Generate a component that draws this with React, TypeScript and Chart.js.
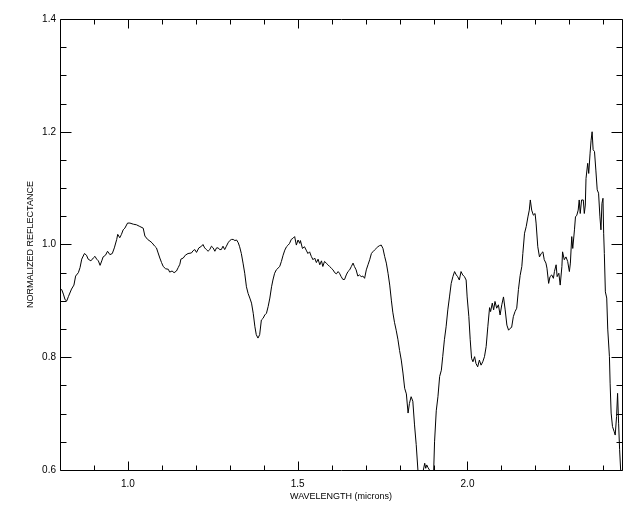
import { useEffect, useRef } from "react";
import { Chart, registerables } from "chart.js";

Chart.register(...registerables);

// Spectrum (wavelength in microns, normalized reflectance)
const wavelength = [
  0.800, 0.805, 0.810, 0.815, 0.820, 0.825, 0.834, 0.841, 0.846, 0.854, 0.859, 0.864, 0.872, 0.878, 0.883, 0.891,
  0.898, 0.903, 0.908, 0.913, 0.918, 0.923, 0.927, 0.934, 0.940, 0.947, 0.954, 0.960, 0.967, 0.970, 0.976, 0.981,
  0.986, 0.991, 0.999, 1.006, 1.016, 1.025, 1.035, 1.045, 1.050, 1.058, 1.065, 1.071, 1.079, 1.084, 1.089, 1.094,
  1.099, 1.104, 1.111, 1.119, 1.123, 1.130, 1.136, 1.143, 1.148, 1.153, 1.156, 1.163, 1.169, 1.177, 1.187, 1.192,
  1.197, 1.202, 1.209, 1.217, 1.221, 1.226, 1.231, 1.236, 1.241, 1.246, 1.251, 1.256, 1.261, 1.266, 1.270, 1.275,
  1.280, 1.285, 1.290, 1.295, 1.300, 1.305, 1.310, 1.315, 1.320, 1.325, 1.329, 1.334, 1.339, 1.344, 1.349, 1.354,
  1.359, 1.364, 1.369, 1.374, 1.378, 1.383, 1.388, 1.393, 1.398, 1.403, 1.408, 1.413, 1.418, 1.423, 1.427, 1.432,
  1.437, 1.447, 1.452, 1.457, 1.462, 1.467, 1.472, 1.476, 1.481, 1.486, 1.491, 1.496, 1.501, 1.506, 1.508, 1.514,
  1.520, 1.525, 1.530, 1.535, 1.540, 1.545, 1.550, 1.555, 1.560, 1.565, 1.570, 1.574, 1.579, 1.584, 1.589, 1.594,
  1.599, 1.604, 1.609, 1.614, 1.619, 1.623, 1.628, 1.633, 1.638, 1.643, 1.648, 1.653, 1.658, 1.663, 1.667, 1.672,
  1.677, 1.682, 1.687, 1.692, 1.697, 1.702, 1.707, 1.712, 1.717, 1.721, 1.726, 1.731, 1.736, 1.741, 1.746, 1.751,
  1.756, 1.761, 1.766, 1.771, 1.776, 1.780, 1.785, 1.790, 1.795, 1.800, 1.805, 1.810, 1.815, 1.820, 1.825, 1.829,
  1.834, 1.839, 1.844, 1.849, 1.854, 1.858, 1.866, 1.870, 1.874, 1.877, 1.880, 1.884, 1.888, 1.893, 1.900, 1.903,
  1.908, 1.913, 1.918, 1.923, 1.927, 1.932, 1.937, 1.942, 1.947, 1.952, 1.957, 1.962, 1.967, 1.971, 1.976, 1.981,
  1.986, 1.991, 1.996, 1.999, 2.004, 2.008, 2.012, 2.016, 2.021, 2.025, 2.030, 2.035, 2.040, 2.045, 2.050, 2.055,
  2.060, 2.065, 2.068, 2.073, 2.077, 2.081, 2.086, 2.091, 2.096, 2.101, 2.106, 2.111, 2.116, 2.121, 2.125, 2.130,
  2.135, 2.140, 2.145, 2.150, 2.155, 2.160, 2.163, 2.168, 2.173, 2.178, 2.182, 2.185, 2.189, 2.194, 2.199, 2.202,
  2.207, 2.212, 2.217, 2.222, 2.226, 2.231, 2.234, 2.239, 2.243, 2.248, 2.253, 2.256, 2.261, 2.264, 2.269, 2.273,
  2.278, 2.280, 2.285, 2.290, 2.295, 2.300, 2.303, 2.307, 2.310, 2.315, 2.318, 2.322, 2.326, 2.329, 2.332, 2.336,
  2.341, 2.344, 2.347, 2.349, 2.354, 2.357, 2.361, 2.364, 2.367, 2.370, 2.374, 2.378, 2.382, 2.386, 2.390, 2.393,
  2.396, 2.399, 2.401, 2.403, 2.406, 2.410, 2.413, 2.418, 2.420, 2.423, 2.427, 2.432, 2.435, 2.439, 2.442, 2.445,
  2.448, 2.451, 2.455,
];

const reflectance = [
  0.922, 0.920, 0.912, 0.902, 0.900, 0.908, 0.921, 0.928, 0.944, 0.950, 0.959, 0.974, 0.984, 0.981, 0.974, 0.971,
  0.976, 0.979, 0.974, 0.971, 0.963, 0.971, 0.978, 0.981, 0.988, 0.982, 0.984, 0.994, 1.009, 1.018, 1.012, 1.018,
  1.026, 1.029, 1.038, 1.038, 1.036, 1.035, 1.032, 1.029, 1.015, 1.009, 1.006, 1.003, 0.997, 0.994, 0.985, 0.976,
  0.968, 0.961, 0.957, 0.956, 0.951, 0.953, 0.950, 0.953, 0.959, 0.965, 0.974, 0.976, 0.981, 0.984, 0.985, 0.989,
  0.991, 0.986, 0.994, 0.997, 1.000, 0.994, 0.991, 0.988, 0.991, 0.997, 0.994, 0.988, 0.994, 0.994, 0.991, 0.991,
  0.997, 0.991, 0.997, 1.003, 1.007, 1.009, 1.009, 1.007, 1.008, 1.003, 0.996, 0.984, 0.967, 0.949, 0.925, 0.913,
  0.905, 0.896, 0.878, 0.854, 0.840, 0.834, 0.840, 0.866, 0.869, 0.875, 0.878, 0.890, 0.905, 0.925, 0.937, 0.949,
  0.955, 0.961, 0.970, 0.981, 0.990, 0.996, 0.999, 1.002, 1.009, 1.011, 1.014, 0.999, 1.008, 1.002, 1.007, 0.993,
  0.996, 0.990, 0.984, 0.987, 0.979, 0.973, 0.976, 0.968, 0.974, 0.964, 0.971, 0.961, 0.970, 0.967, 0.964, 0.961,
  0.958, 0.955, 0.950, 0.948, 0.952, 0.949, 0.943, 0.938, 0.938, 0.946, 0.952, 0.955, 0.961, 0.967, 0.961, 0.955,
  0.944, 0.946, 0.943, 0.944, 0.940, 0.955, 0.964, 0.973, 0.984, 0.987, 0.990, 0.993, 0.996, 0.998, 0.999, 0.993,
  0.979, 0.967, 0.949, 0.928, 0.900, 0.880, 0.862, 0.848, 0.832, 0.812, 0.795, 0.772, 0.745, 0.735, 0.701, 0.718,
  0.730, 0.722, 0.680, 0.645, 0.600, 0.585, 0.585, 0.600, 0.612, 0.603, 0.609, 0.604, 0.600, 0.590, 0.590, 0.650,
  0.705, 0.730, 0.766, 0.777, 0.801, 0.831, 0.854, 0.884, 0.907, 0.931, 0.943, 0.952, 0.946, 0.943, 0.937, 0.952,
  0.946, 0.943, 0.937, 0.907, 0.872, 0.831, 0.798, 0.792, 0.801, 0.789, 0.783, 0.795, 0.786, 0.792, 0.801, 0.819,
  0.855, 0.888, 0.881, 0.896, 0.884, 0.899, 0.887, 0.893, 0.875, 0.893, 0.907, 0.884, 0.857, 0.848, 0.851, 0.853,
  0.872, 0.881, 0.887, 0.920, 0.945, 0.961, 0.984, 1.020, 1.032, 1.049, 1.061, 1.079, 1.061, 1.052, 1.055, 1.038,
  0.996, 0.978, 0.984, 0.987, 0.973, 0.967, 0.958, 0.931, 0.943, 0.946, 0.940, 0.952, 0.964, 0.943, 0.949, 0.928,
  0.961, 0.987, 0.973, 0.978, 0.970, 0.952, 0.967, 1.014, 0.993, 1.026, 1.049, 1.052, 1.061, 1.079, 1.055, 1.079,
  1.079, 1.055, 1.070, 1.117, 1.144, 1.126, 1.162, 1.185, 1.200, 1.168, 1.165, 1.132, 1.097, 1.091, 1.049, 1.026,
  1.073, 1.082, 1.020, 0.984, 0.916, 0.905, 0.850, 0.801, 0.754, 0.701, 0.677, 0.668, 0.662, 0.695, 0.736, 0.683,
  0.636, 0.600, 0.585,
];

const xMin = 0.8;
const xMax = 2.455;
const yMin = 0.6;
const yMax = 1.4;
const xMajorTicks = [1.0, 1.5, 2.0];
const xMinorTicks = [0.9, 1.1, 1.2, 1.3, 1.4, 1.6, 1.7, 1.8, 1.9, 2.1, 2.2, 2.3, 2.4];
const yMajorTicks = [0.6, 0.8, 1.0, 1.2, 1.4];
const yMinorTicks = [0.65, 0.7, 0.75, 0.85, 0.9, 0.95, 1.05, 1.1, 1.15, 1.25, 1.3, 1.35];
const xTitle = "WAVELENGTH (microns)";
const yTitle = "NORMALIZED REFLECTANCE";

const FONT = "'Liberation Sans', Arial, Helvetica, sans-serif";

const inList = (list: number[], v: number) => list.some((m) => Math.abs(m - v) < 1e-6);

const idlFrame = {
  id: "idlFrame",
  afterDatasetsDraw(chart: any) {
    const { ctx, chartArea, scales } = chart;
    const { left, right, top, bottom } = chartArea;
    const L = Math.round(left) + 0.5;
    const R = Math.round(right) + 0.5;
    const T = Math.round(top) + 0.5;
    const B = Math.round(bottom) + 0.5;
    ctx.save();
    ctx.strokeStyle = "#000";
    ctx.lineWidth = 1;
    ctx.beginPath();
    ctx.moveTo(L, T);
    ctx.lineTo(R, T);
    ctx.lineTo(R, B);
    ctx.lineTo(L, B);
    ctx.closePath();
    for (const t of scales.x.ticks) {
      const px = Math.round(scales.x.getPixelForValue(t.value)) + 0.5;
      const len = inList(xMajorTicks, t.value) ? 9 : 5;
      ctx.moveTo(px, B);
      ctx.lineTo(px, B - len);
      ctx.moveTo(px, T);
      ctx.lineTo(px, T + len);
    }
    for (const t of scales.y.ticks) {
      const py = Math.round(scales.y.getPixelForValue(t.value)) + 0.5;
      const len = inList(yMajorTicks, t.value) ? 11 : 6;
      ctx.moveTo(L, py);
      ctx.lineTo(L + len, py);
      ctx.moveTo(R, py);
      ctx.lineTo(R - len, py);
    }
    ctx.stroke();
    ctx.restore();
  },
};

export default function App() {
  const canvasRef = useRef<HTMLCanvasElement | null>(null);

  useEffect(() => {
    const canvas = canvasRef.current;
    if (!canvas) return;
    const points = wavelength.map((w, i) => ({ x: w, y: reflectance[i] }));
    const chart = new Chart(canvas, {
      type: "line",
      data: {
        datasets: [
          {
            data: points,
            borderColor: "#000",
            borderWidth: 1,
            pointRadius: 0,
            tension: 0,
            fill: false,
          },
        ],
      },
      options: {
        responsive: false,
        animation: false,
        devicePixelRatio: 1,
        events: [],
        layout: { padding: { top: 19, right: 18, left: 0, bottom: 0 } },
        plugins: { legend: { display: false }, tooltip: { enabled: false } },
        scales: {
          x: {
            type: "linear",
            min: xMin,
            max: xMax,
            grid: { display: false, drawTicks: false },
            border: { display: false },
            afterBuildTicks: (scale: any) => {
              scale.ticks = [...xMajorTicks, ...xMinorTicks]
                .sort((a, b) => a - b)
                .map((v) => ({ value: v }));
            },
            afterFit: (scale: any) => {
              scale.height = 42;
            },
            ticks: {
              autoSkip: false,
              maxRotation: 0,
              padding: 8,
              color: "#000",
              font: { family: FONT, size: 10 },
              callback: (v: any) => (inList(xMajorTicks, Number(v)) ? Number(v).toFixed(1) : ""),
            },
            title: {
              display: true,
              text: xTitle,
              color: "#000",
              font: { family: FONT, size: 9 },
              padding: { top: 0, bottom: 10 },
            },
          },
          y: {
            type: "linear",
            min: yMin,
            max: yMax,
            grid: { display: false, drawTicks: false },
            border: { display: false },
            afterBuildTicks: (scale: any) => {
              scale.ticks = [...yMajorTicks, ...yMinorTicks]
                .sort((a, b) => a - b)
                .map((v) => ({ value: v }));
            },
            afterFit: (scale: any) => {
              scale.width = 60;
            },
            ticks: {
              autoSkip: false,
              padding: 4,
              color: "#000",
              font: { family: FONT, size: 10 },
              callback: (v: any) => (inList(yMajorTicks, Number(v)) ? Number(v).toFixed(1) : ""),
            },
            title: {
              display: true,
              text: yTitle,
              color: "#000",
              font: { family: FONT, size: 9 },
              padding: { top: 25, bottom: 0 },
            },
          },
        },
      },
      plugins: [idlFrame],
    } as any);
    return () => chart.destroy();
  }, []);

  return (
    <div style={{ position: "absolute", left: 0, top: 0, width: 640, height: 512, background: "#fff" }}>
      <canvas ref={canvasRef} width={640} height={512} style={{ display: "block", width: 640, height: 512 }} />
    </div>
  );
}
